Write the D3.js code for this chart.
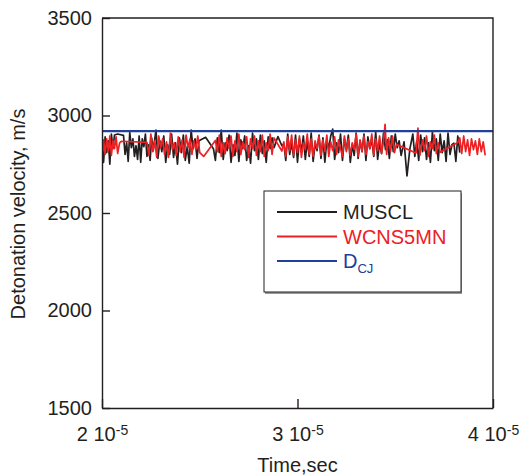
<!DOCTYPE html>
<html>
<head>
<meta charset="utf-8">
<script src="https://cdn.jsdelivr.net/npm/d3@7"></script>
<style>
  body { margin: 0; background: #fff; }
  text { font-family: "Liberation Sans", Arial, sans-serif; fill: #231f20; }
</style>
</head>
<body>
<div id="chart"></div>
<script>
// Detonation velocity vs time (time in units of 1e-5 s)

const yTicks = [1500, 2000, 2500, 3000, 3500];
const xTicks = [2, 3, 4];
const xExponent = "-5";
const dCJ = 2920;

// MUSCL: [time, velocity]
const muscl = [
  [2.000, 2840], [2.008, 2760], [2.016, 2890], [2.024, 2810], [2.032, 2870], [2.040, 2750],
  [2.048, 2905], [2.056, 2830], [2.064, 2900], [2.080, 2905], [2.110, 2898], [2.118, 2800],
  [2.126, 2860], [2.134, 2765], [2.142, 2912], [2.150, 2835], [2.158, 2880], [2.166, 2790],
  [2.174, 2845], [2.182, 2775], [2.190, 2895], [2.198, 2760], [2.206, 2880], [2.214, 2840],
  [2.222, 2905], [2.230, 2790], [2.238, 2850], [2.246, 2770], [2.254, 2885], [2.262, 2820],
  [2.276, 2925], [2.286, 2780], [2.296, 2870], [2.306, 2815], [2.316, 2895], [2.326, 2760],
  [2.336, 2850], [2.346, 2800], [2.356, 2905], [2.366, 2785], [2.376, 2860], [2.386, 2750],
  [2.396, 2885], [2.406, 2810], [2.416, 2900], [2.426, 2770], [2.436, 2840], [2.446, 2755],
  [2.456, 2925], [2.466, 2830], [2.476, 2880], [2.486, 2780], [2.496, 2870], [2.530, 2888],
  [2.570, 2830], [2.580, 2770], [2.590, 2885], [2.600, 2810], [2.610, 2925], [2.620, 2775],
  [2.630, 2860], [2.640, 2820], [2.650, 2900], [2.660, 2760], [2.670, 2850], [2.680, 2795],
  [2.690, 2910], [2.700, 2765], [2.710, 2875], [2.720, 2830], [2.730, 2895], [2.740, 2770],
  [2.750, 2845], [2.760, 2755], [2.770, 2910], [2.780, 2820], [2.790, 2880], [2.800, 2775],
  [2.810, 2900], [2.820, 2805], [2.830, 2870], [2.840, 2760], [2.850, 2890], [2.860, 2830],
  [2.870, 2885], [2.880, 2835], [2.900, 2892], [2.920, 2845], [2.930, 2855], [2.940, 2770],
  [2.950, 2905], [2.960, 2800], [2.970, 2860], [2.980, 2785], [2.990, 2900], [3.000, 2760],
  [3.010, 2880], [3.020, 2815], [3.030, 2895], [3.040, 2775], [3.050, 2870], [3.060, 2790],
  [3.070, 2910], [3.080, 2765], [3.090, 2855], [3.100, 2820], [3.110, 2900], [3.120, 2780],
  [3.130, 2885], [3.140, 2760], [3.150, 2875], [3.160, 2830], [3.170, 2895], [3.180, 2930],
  [3.190, 2775], [3.200, 2860], [3.210, 2810], [3.220, 2905], [3.230, 2770], [3.240, 2880],
  [3.250, 2825], [3.260, 2900], [3.270, 2760], [3.280, 2850], [3.290, 2795], [3.300, 2910],
  [3.310, 2780], [3.320, 2870], [3.330, 2815], [3.340, 2905], [3.350, 2770], [3.360, 2890],
  [3.370, 2830], [3.380, 2880], [3.390, 2790], [3.400, 2915], [3.410, 2775], [3.420, 2860],
  [3.430, 2805], [3.440, 2910], [3.450, 2825], [3.460, 2875], [3.470, 2780], [3.480, 2895],
  [3.490, 2815], [3.500, 2905], [3.510, 2835], [3.520, 2870], [3.530, 2795], [3.545, 2865],
  [3.560, 2690], [3.575, 2830], [3.590, 2905], [3.600, 2790], [3.610, 2870], [3.620, 2770],
  [3.630, 2900], [3.640, 2815], [3.650, 2885], [3.660, 2775], [3.670, 2860], [3.680, 2760],
  [3.690, 2915], [3.700, 2820], [3.710, 2880], [3.720, 2770], [3.730, 2905], [3.740, 2810],
  [3.750, 2870], [3.760, 2765], [3.770, 2910], [3.780, 2800], [3.790, 2850], [3.800, 2858],
  [3.810, 2765], [3.820, 2895], [3.830, 2810]
];

// WCNS5MN: [time, velocity]
const wcns = [
  [2.000, 2790], [2.008, 2875], [2.016, 2800], [2.024, 2880], [2.032, 2820], [2.040, 2895],
  [2.048, 2795], [2.056, 2870], [2.064, 2830], [2.072, 2890], [2.080, 2805], [2.090, 2860],
  [2.100, 2868], [2.230, 2862], [2.240, 2795], [2.250, 2905], [2.260, 2815], [2.270, 2870],
  [2.280, 2785], [2.290, 2895], [2.300, 2835], [2.310, 2880], [2.320, 2800], [2.330, 2865],
  [2.340, 2785], [2.350, 2910], [2.360, 2825], [2.370, 2860], [2.380, 2795], [2.390, 2890],
  [2.400, 2815], [2.410, 2875], [2.420, 2785], [2.430, 2900], [2.440, 2835], [2.450, 2880],
  [2.460, 2800], [2.470, 2870], [2.480, 2825], [2.490, 2895], [2.500, 2810], [2.520, 2790],
  [2.580, 2872], [2.590, 2815], [2.600, 2900], [2.610, 2790], [2.620, 2860], [2.630, 2805],
  [2.640, 2885], [2.650, 2830], [2.660, 2895], [2.670, 2790], [2.680, 2870], [2.690, 2815],
  [2.700, 2905], [2.710, 2800], [2.720, 2865], [2.730, 2825], [2.740, 2890], [2.750, 2785],
  [2.760, 2880], [2.770, 2830], [2.780, 2895], [2.790, 2795], [2.800, 2870], [2.810, 2815],
  [2.820, 2900], [2.830, 2790], [2.840, 2860], [2.850, 2820], [2.860, 2905], [2.870, 2800],
  [2.880, 2885], [2.920, 2818], [2.930, 2865], [2.940, 2790], [2.950, 2890], [2.960, 2820],
  [2.970, 2900], [2.980, 2795], [2.990, 2875], [3.000, 2810], [3.010, 2895], [3.020, 2785],
  [3.030, 2860], [3.040, 2825], [3.050, 2905], [3.060, 2800], [3.070, 2880], [3.080, 2790],
  [3.090, 2870], [3.100, 2830], [3.110, 2895], [3.120, 2795], [3.130, 2875], [3.140, 2815],
  [3.150, 2900], [3.160, 2790], [3.170, 2865], [3.180, 2820], [3.190, 2890], [3.200, 2800],
  [3.210, 2875], [3.220, 2830], [3.230, 2790], [3.240, 2895], [3.250, 2815], [3.260, 2880],
  [3.270, 2795], [3.280, 2860], [3.290, 2825], [3.300, 2905], [3.310, 2790], [3.320, 2875],
  [3.330, 2815], [3.340, 2895], [3.350, 2800], [3.360, 2865], [3.370, 2830], [3.380, 2905],
  [3.390, 2795], [3.400, 2880], [3.410, 2820], [3.420, 2895], [3.430, 2805], [3.440, 2870],
  [3.448, 2955], [3.456, 2800], [3.466, 2885], [3.476, 2815], [3.486, 2895], [3.496, 2810],
  [3.506, 2852], [3.606, 2808], [3.616, 2935], [3.626, 2795], [3.640, 2875], [3.650, 2820],
  [3.660, 2895], [3.670, 2790], [3.680, 2865], [3.690, 2830], [3.700, 2900], [3.710, 2805],
  [3.720, 2860], [3.730, 2812], [3.820, 2862], [3.830, 2885], [3.840, 2805], [3.850, 2895],
  [3.860, 2815], [3.870, 2875], [3.880, 2795], [3.890, 2880], [3.900, 2825], [3.910, 2870],
  [3.920, 2800], [3.930, 2880], [3.940, 2815], [3.950, 2865], [3.960, 2795]
];

const colors = { muscl: "#231f20", wcns: "#ed2024", dcj: "#20409a" };

const margin = {top: 18, right: 28, bottom: 67, left: 102},
      width = 521 - margin.left - margin.right,
      height = 475 - margin.top - margin.bottom;

const svg = d3.select("#chart")
    .append("svg")
    .attr("width", 521)
    .attr("height", 475)
    .append("g")
    .attr("transform", `translate(${margin.left},${margin.top})`);

const x = d3.scaleLinear().domain([2, 4]).range([0, width]);
const y = d3.scaleLinear().domain([1500, 3500]).range([height, 0]);

// Clip lines to plot area
svg.append("clipPath").attr("id", "clip")
    .append("rect").attr("width", width).attr("height", height);

const line = d3.line().x(d => x(d[0])).y(d => y(d[1]));

const plot = svg.append("g").attr("clip-path", "url(#clip)");

plot.append("path")
    .datum(muscl)
    .attr("d", line)
    .attr("fill", "none")
    .attr("stroke", colors.muscl)
    .attr("stroke-width", 1.7)
    .attr("stroke-linejoin", "round");

plot.append("path")
    .datum(wcns)
    .attr("d", line)
    .attr("fill", "none")
    .attr("stroke", colors.wcns)
    .attr("stroke-width", 1.7)
    .attr("stroke-linejoin", "round");

plot.append("path")
    .datum([[2, dCJ], [4, dCJ]])
    .attr("d", line)
    .attr("fill", "none")
    .attr("stroke", colors.dcj)
    .attr("stroke-width", 2.4);

// Axes (ticks pointing inward)
const yAxis = svg.append("g")
    .call(d3.axisLeft(y).tickValues(yTicks).tickFormat(d3.format("d"))
        .tickSizeInner(-8).tickSizeOuter(0).tickPadding(10));
yAxis.selectAll("text").style("font-size", "20px").attr("fill", "#231f20");

const xAxis = svg.append("g")
    .attr("transform", `translate(0,${height})`)
    .call(d3.axisBottom(x).tickValues(xTicks).tickSizeInner(-9).tickSizeOuter(0).tickPadding(19));
xAxis.selectAll("text")
    .style("font-size", "20px")
    .attr("fill", "#231f20")
    .text(null)
    .each(function(d) {
        const t = d3.select(this);
        t.append("tspan").text(d + " 10");
        t.append("tspan").attr("dy", "-0.45em").style("font-size", "14px").text(xExponent);
    });

svg.selectAll(".domain, .tick line").attr("stroke", "#231f20").attr("stroke-width", 1.4);

// Top and right frame
svg.append("path")
    .attr("d", `M0,0H${width}V${height}`)
    .attr("fill", "none")
    .attr("stroke", "#231f20")
    .attr("stroke-width", 1.4);

// Axis titles
svg.append("text")
    .attr("x", width / 2)
    .attr("y", height + 64)
    .attr("text-anchor", "middle")
    .style("font-size", "20px")
    .text("Time,sec");

svg.append("text")
    .attr("transform", "rotate(-90)")
    .attr("x", -(214 - margin.top))
    .attr("y", -(margin.left - 25))
    .attr("text-anchor", "middle")
    .style("font-size", "20px")
    .text("Detonation velocity, m/s");

// Legend
const legend = svg.append("g")
    .attr("transform", `translate(${264 - margin.left},${191 - margin.top})`);

legend.append("rect")
    .attr("x", 1).attr("y", 2)
    .attr("width", 197).attr("height", 101)
    .attr("fill", "#999");
legend.append("rect")
    .attr("width", 197).attr("height", 101)
    .attr("fill", "#fff")
    .attr("stroke", "#231f20")
    .attr("stroke-width", 1);

const items = [
    {label: "MUSCL", color: colors.muscl},
    {label: "WCNS5MN", color: colors.wcns},
    {label: "D", sub: "CJ", color: colors.dcj}
];

items.forEach((it, i) => {
    const yy = 21 + i * 24.5;
    legend.append("line")
        .attr("x1", 13).attr("x2", 73)
        .attr("y1", yy).attr("y2", yy)
        .attr("stroke", it.color)
        .attr("stroke-width", i === 2 ? 2 : 1.8);
    const t = legend.append("text")
        .attr("x", 79)
        .attr("y", yy + 7)
        .style("font-size", "20px")
        .style("fill", it.color)
        .text(it.label);
    if (it.sub) {
        t.append("tspan").attr("dy", "0.35em").style("font-size", "13px").text(it.sub);
    }
});
</script>
</body>
</html>
